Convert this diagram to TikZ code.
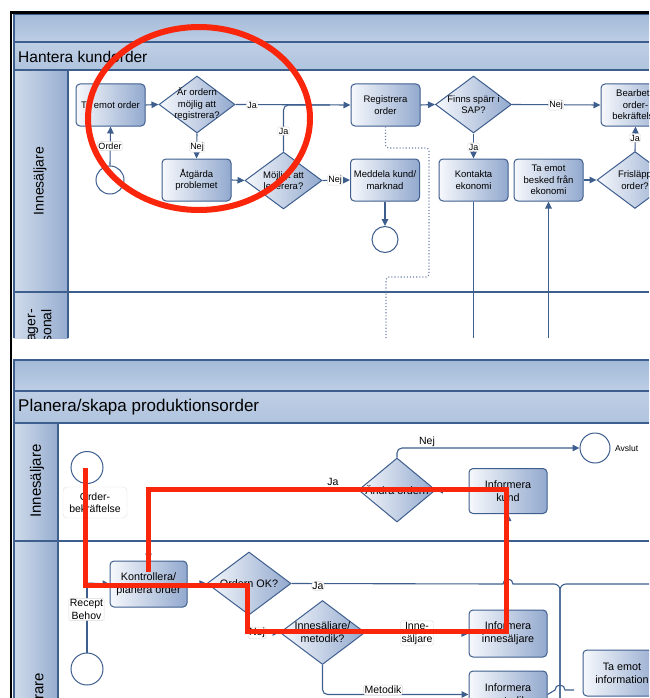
\documentclass[tikz,border=0pt]{standalone}
\usepackage{fontspec}
\setmainfont{Liberation Sans}
\usetikzlibrary{arrows.meta,shapes.geometric}
\definecolor{lineC}{RGB}{62,94,142}
\definecolor{boxR}{RGB}{146,169,206}
\definecolor{boxL}{RGB}{246,248,252}
\definecolor{bandT}{RGB}{163,186,216}
\definecolor{bandB}{RGB}{190,206,229}
\definecolor{laneL}{RGB}{208,219,235}
\definecolor{laneR}{RGB}{150,173,208}
\definecolor{redA}{RGB}{250,38,12}
\definecolor{dotC}{RGB}{110,130,170}
\newcommand\myfs[2]{\fontsize{#1}{#2}\selectfont}
\begin{document}
\begin{tikzpicture}[x=1pt,y=-1pt,
  flow/.style={draw=lineC, line width=1.1pt, -{Triangle[length=7pt,width=6.5pt]}},
  plain/.style={draw=lineC, line width=1.1pt},
  frame/.style={draw=lineC, line width=1.1pt},
  box/.style={draw=lineC, line width=1pt, rounded corners=4pt, left color=boxL, right color=boxR,
     minimum width=69pt, minimum height=42pt, inner sep=1pt, align=center, font=\myfs{9.5}{11.5}},
  bbox/.style={box, minimum width=78pt, minimum height=46pt, font=\myfs{10.8}{13}},
  dia/.style={diamond, draw=lineC, line width=1pt, left color=boxL, right color=boxR,
     inner sep=0pt, minimum width=76pt, minimum height=57pt},
  dtxt/.style={align=center, font=\myfs{9.5}{11.5}, inner sep=0pt},
  bdtxt/.style={align=center, font=\myfs{10.8}{13}, inner sep=0pt},
  evt/.style={circle, draw=lineC, line width=1pt, fill=white, minimum size=28pt, inner sep=0pt},
  lbl/.style={fill=white, draw=black!15, rounded corners=1.5pt, inner sep=1pt, font=\myfs{9}{10.5}, align=center},
  blbl/.style={lbl, font=\myfs{10.5}{13}},
  lanetxt/.style={rotate=90, font=\myfs{14}{16}, inner sep=0pt}
]
\useasboundingbox (0,0) rectangle (649,698);
\clip (0,0) rectangle (649,698);

% ================= top panel =================
\shade[top color=bandT, bottom color=bandB] (14,14) rectangle (649,42);
\shade[top color=bandB, bottom color=bandT!85!white] (14,42) rectangle (649,70);
\shade[left color=laneL, right color=laneR] (14,70) rectangle (68,338);
\draw[frame] (14,338) -- (14,14) -- (649,14);
\draw[frame] (14,42) -- (649,42);
\draw[frame] (14,70) -- (649,70);
\draw[frame] (68,70) -- (68,338);
\draw[frame] (14,292) -- (649,292);
\node[anchor=west, font=\myfs{15.5}{18}, inner sep=0pt] (title1) at (18,57) {Hantera kundorder};
\node[lanetxt] (lane1) at (40,181) {Innesäljare};
\begin{scope}
\clip (14,292) rectangle (68,338);
\node[lanetxt, anchor=east, align=right] (lane2) at (40,309) {Lager-\\personal};
\end{scope}

% nodes
\node[box] (tmo) at (110.5,105) {Ta emot order};
\node[dia] (d1) at (197,104.5) {};
\node[dtxt] (d1t) at (d1) {Är ordern\\möjlig att\\registrera?};
\node[evt] (s1) at (110,180) {};
\node[box] (atg) at (196.5,180) {Åtgärda\\problemet};
\node[dia, minimum width=77pt] (d2) at (283.5,180.5) {};
\node[dtxt] (d2t) at (d2) {Möjligt att\\leverera?};
\node[box] (reg) at (385.5,105) {Registrera\\order};
\node[dia] (d3) at (473.5,104.5) {};
\node[dtxt] (d3t) at (d3) {Finns spärr i\\SAP?};
\node[box] (bea) at (635.5,105) {Bearbeta\\order-\\bekräftelse};
\node[box] (kon) at (473.5,180) {Kontakta\\ekonomi};
\node[box] (tab) at (548.5,180) {Ta emot\\besked från\\ekonomi};
\node[dia] (d4) at (635,180) {};
\node[dtxt] (d4t) at (d4) {Frisläpp\\order?};
\node[box] (med) at (385,180) {Meddela kund/\\marknad};
\node[evt, minimum size=26pt] (e1) at (385,239.5) {};
\coordinate (j1) at (330,105);
\coordinate (dotend) at (386,338);
\coordinate (konend) at (473.5,338);
\coordinate (tabstart) at (548.5,338);

% connectors
\draw[flow] (s1.north) -- (tmo.south);
\draw[flow] (tmo.east) -- (d1.west);
\draw[flow] (d1.south) -- (atg.north);
\draw[flow] (atg.east) -- (d2.west);
\draw[flow] (d1.east) -- (reg.west);
\draw[plain, rounded corners=5pt] (d2.north) |- (j1);
\draw[flow] (d2.east) -- (med.west);
\draw[flow] (med.south) -- (e1.north);
\draw[flow] (reg.east) -- (d3.west);
\draw[flow] (d3.east) -- (bea.west);
\draw[flow] (d3.south) -- (kon.north);
\draw[flow] (tab.east) -- (d4.west);
\draw[flow] (d4.north) -- (bea.south);
\draw[dotC, line width=1.1pt, dotted, rounded corners=3pt] (reg.south) -- (385.5,148) -- (429,148) -- (429,277) -- (386,277) -- (dotend);
\draw[plain, line width=0.9pt] (kon.south) -- (konend);
\draw[flow] (tabstart) -- (tab.south);

% labels
\node[lbl] (lOrder) at (110,146) {Order};
\node[lbl] (lNej1) at (197,147) {Nej};
\node[lbl] (lJa1) at (252,105) {Ja};
\node[lbl] (lJa2) at (283.5,131) {Ja};
\node[lbl] (lNej2) at (335,180) {Nej};
\node[lbl] (lNej3) at (556,105) {Nej};
\node[lbl] (lJa3) at (473.5,147) {Ja};
\node[lbl] (lJa4) at (635,138) {Ja};

% ================= bottom panel =================
\shade[top color=bandT, bottom color=bandB] (14,360) rectangle (649,391);
\shade[top color=bandB, bottom color=bandT!85!white] (14,391) rectangle (649,423);
\shade[left color=laneL, right color=laneR] (14,423) rectangle (58,698);
\draw[frame] (14,698) -- (14,360) -- (649,360);
\draw[frame] (14,391) -- (649,391);
\draw[frame] (14,423) -- (649,423);
\draw[frame] (58,423) -- (58,698);
\draw[frame] (14,541) -- (649,541);
\node[anchor=west, font=\myfs{17}{20}, inner sep=0pt] (title2) at (18,407) {Planera/skapa produktionsorder};
\node[lanetxt, font=\myfs{15}{17}] (lane3) at (37,481) {Innesäljare};
\node[lanetxt, font=\myfs{15}{17}, anchor=east] (lane4) at (38,673) {Planerare};

% nodes
\node[evt, minimum size=32pt] (c1) at (87,467.5) {};
\node[evt, minimum size=32pt] (c2) at (87,669) {};
\node[evt, minimum size=30pt] (avs) at (595,448) {};
\node[anchor=west, font=\myfs{8.5}{10}, inner sep=0pt] (avst) at (615,448) {Avslut};
\node[bbox, minimum width=77pt] (kp) at (148.5,584) {Kontrollera/\\planera order};
\node[dia, minimum width=84pt, minimum height=63pt] (od) at (249,583.5) {};
\node[bdtxt] (odt) at (od) {Ordern OK?};
\node[dia, minimum width=77pt, minimum height=64pt] (ao) at (397,490) {};
\node[bdtxt] (aot) at (ao) {Ändra ordern};
\node[bbox, minimum height=45pt] (ik) at (508,491) {Informera\\kund};
\node[dia, minimum width=85pt, minimum height=64pt] (im) at (322.5,632.5) {};
\node[bdtxt] (imt) at (im) {Innesäljare/\\metodik?};
\node[bbox, minimum height=47pt] (iis) at (508,633.5) {Informera\\innesäljare};
\node[bbox, minimum height=47pt] (imet) at (508,694.5) {Informera\\metodik};
\node[bbox, minimum height=46pt] (tei) at (622,673) {Ta emot\\information};
\coordinate (m1) at (87,583);
\coordinate (jaend) at (649,584);
\coordinate (vend) at (560,698);
\coordinate (hopend) at (574,690);

% connectors
\draw[plain] (c1.south) -- (m1);
\draw[plain] (c2.north) -- (m1);
\draw[flow] (m1) -- (kp.west);
\draw[flow] (kp.east) -- (od.west);
\draw[flow, rounded corners=5pt] (od.south) |- (im.west);
\draw[flow] (im.east) -- (iis.west);
\draw[flow, rounded corners=5pt] (im.south) |- (imet.west);
\draw[plain] (od.east) -- (503,584) arc[start angle=180, end angle=0, radius=5pt] [rounded corners=6pt] -- (560,584) -- (vend);
\draw[plain, rounded corners=6pt] (jaend) -- (560,584) -- (vend);
\draw[plain] (imet.east) -- (555,690) arc[start angle=180, end angle=0, radius=5pt] -- (hopend);
\draw[flow] (iis.north) -- (ik.south);
\draw[flow] (ik.west) -- (ao.east);
\draw[flow, rounded corners=5pt] (ao.west) -| (kp.north);
\draw[flow, rounded corners=5pt] (ao.north) |- (avs.west);

% labels
\node[lbl, font=\myfs{10.5}{12.5}, draw=black!12, rounded corners=4pt, inner sep=2pt, minimum width=64pt, minimum height=31pt] (lob) at (95,502.5) {Order-\\bekräftelse};
\node[blbl] (lrb) at (86.5,609.5) {Recept\\Behov};
\node[blbl, rounded corners=4pt] (lja5) at (318,586) {Ja};
\node[blbl] (lnej5) at (257,633) {Nej};
\node[blbl] (lis) at (417,633) {Inne-\\säljare};
\node[blbl] (lmet) at (383,690) {Metodik};
\node[font=\myfs{10.5}{12.5}, inner sep=0pt] (lja6) at (333,482) {Ja};
\node[font=\myfs{10.5}{12.5}, inner sep=0pt] (lnej6) at (427,442) {Nej};

% ================= black frame =================
\draw[black, line width=2.2pt] (11,698) -- (11,12.5) -- (649,12.5);

% ================= red annotations =================
\draw[redA, line width=6pt] (199,118.5) ellipse [x radius=111pt, y radius=91.5pt];
\draw[redA, line width=5pt, line join=miter] (85,468) -- (85,585) -- (247,585) -- (247,631) -- (506,631) -- (506,489) -- (148,489) -- (148,572);
\end{tikzpicture}
\end{document}
